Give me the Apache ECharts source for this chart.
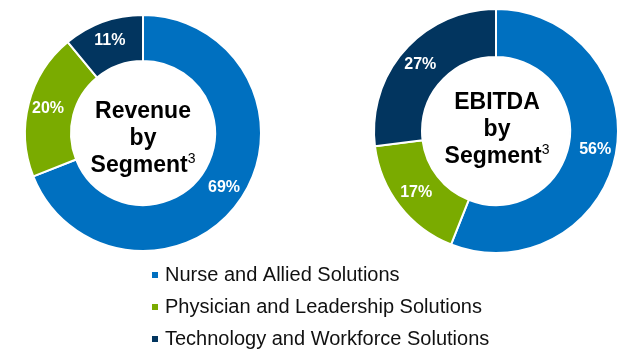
<!DOCTYPE html>
<html>
<head>
<meta charset="utf-8">
<script src="https://cdn.jsdelivr.net/npm/echarts@6/dist/echarts.min.js"></script>
<style>
  html, body { margin: 0; padding: 0; background: #fff; }
  #main { width: 638px; height: 352px; }
</style>
</head>
<body>
<div id="main"></div>
<script>
// segments, in clockwise order from 12 o'clock
var segments = ['Nurse and Allied Solutions', 'Physician and Leadership Solutions', 'Technology and Workforce Solutions'];
var revenueShare = [69, 20, 11];
var ebitdaShare = [56, 17, 27];
var colors = ['#0070c0', '#7aab00', '#02355f'];

var font = 'Liberation Sans, Arial, sans-serif';

var chartDom = document.getElementById('main');
var myChart = echarts.init(chartDom);

function toData(values) {
  return segments.map(function (name, i) {
    return { name: name, value: values[i] };
  });
}

function donut(center, radius, values) {
  return {
    type: 'pie',
    center: center,
    radius: radius,
    startAngle: 90,
    clockwise: true,
    avoidLabelOverlap: false,
    emphasis: { disabled: true },
    itemStyle: { borderColor: '#fff', borderWidth: 2 },
    label: {
      show: true,
      position: 'inside',
      formatter: '{c}%',
      color: '#fff',
      fontFamily: font,
      fontWeight: 'bold',
      fontSize: 16
    },
    labelLine: { show: false },
    data: toData(values)
  };
}

var centerRich = {
  b: { fontFamily: font, fontWeight: 'bold', fontSize: 23, lineHeight: 27, fill: '#000' },
  sup: { fontFamily: font, fontSize: 14, lineHeight: 27, fill: '#000', verticalAlign: 'top' }
};

var option = {
  animation: false,
  color: colors,
  legend: {
    orient: 'vertical',
    left: 145,
    top: 260,
    height: 92,
    icon: 'rect',
    itemWidth: 8,
    itemHeight: 8,
    itemGap: 12,
    selectedMode: false,
    textStyle: { fontFamily: font, fontSize: 20, color: '#111', padding: [0, 0, 0, 1] },
    data: segments
  },
  graphic: [
    {
      type: 'text',
      x: 143,
      y: 139,
      style: {
        text: '{b|Revenue}\n{b|by}\n{b|Segment}{sup|3}',
        rich: centerRich,
        align: 'center',
        verticalAlign: 'middle'
      }
    },
    {
      type: 'text',
      x: 497,
      y: 130,
      style: {
        text: '{b|EBITDA}\n{b|by}\n{b|Segment}{sup|3}',
        rich: centerRich,
        align: 'center',
        verticalAlign: 'middle'
      }
    }
  ],
  series: [
    donut([143, 133], [72, 118], revenueShare),
    donut([496, 131], [74, 122], ebitdaShare)
  ]
};

myChart.setOption(option);
</script>
</body>
</html>
